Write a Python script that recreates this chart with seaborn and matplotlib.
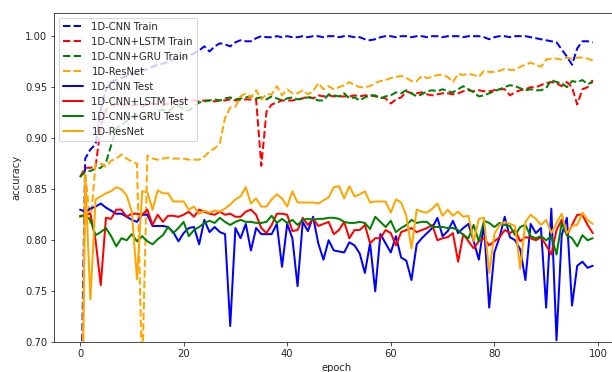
import matplotlib
matplotlib.use('Agg')
import matplotlib.pyplot as plt
import numpy as np
import seaborn as sns

sns.set_style('ticks')
plt.rcParams['font.family'] = ['DejaVu Sans']

epochs = np.arange(100)

# training accuracy (dashed)
cnn_train = [0.580, 0.880, 0.889, 0.894, 0.928, 0.948, 0.955, 0.957, 0.959, 0.961,
             0.962, 0.964, 0.966, 0.968, 0.970, 0.972, 0.973, 0.975, 0.977, 0.978,
             0.979, 0.981, 0.983, 0.986, 0.990, 0.985, 0.990, 0.993, 0.992, 0.990,
             0.994, 0.996, 0.995, 0.995, 0.998, 1.000, 0.999, 0.999, 1.000, 0.999,
             1.000, 0.999, 0.999, 1.000, 0.999, 1.000, 1.000, 0.999, 1.000, 1.000,
             0.999, 1.000, 1.000, 0.999, 0.999, 0.997, 0.996, 0.997, 0.999, 1.000,
             1.000, 0.999, 1.000, 1.000, 0.999, 1.000, 1.000, 0.999, 1.000, 1.000,
             0.999, 1.000, 1.000, 1.000, 0.999, 1.000, 1.000, 1.000, 0.999, 0.997,
             0.999, 1.000, 1.000, 0.999, 1.000, 1.000, 1.000, 0.999, 0.998, 0.997,
             0.996, 0.995, 0.994, 0.987, 0.980, 0.972, 0.988, 0.995, 0.995, 0.994]
lstm_train = [0.862, 0.871, 0.871, 0.872, 0.912, 0.928, 0.932, 0.933, 0.932, 0.933,
              0.932, 0.933, 0.931, 0.933, 0.934, 0.933, 0.932, 0.934, 0.935, 0.937,
              0.936, 0.938, 0.937, 0.936, 0.937, 0.937, 0.936, 0.937, 0.937, 0.938,
              0.937, 0.938, 0.938, 0.938, 0.938, 0.873, 0.926, 0.933, 0.935, 0.937,
              0.937, 0.937, 0.938, 0.939, 0.941, 0.939, 0.942, 0.941, 0.942, 0.941,
              0.941, 0.941, 0.941, 0.942, 0.941, 0.942, 0.942, 0.941, 0.940, 0.939,
              0.934, 0.938, 0.940, 0.946, 0.944, 0.944, 0.945, 0.943, 0.942, 0.943,
              0.944, 0.944, 0.943, 0.944, 0.946, 0.947, 0.946, 0.947, 0.946, 0.946,
              0.947, 0.948, 0.948, 0.942, 0.945, 0.947, 0.948, 0.950, 0.950, 0.952,
              0.954, 0.955, 0.954, 0.951, 0.955, 0.950, 0.933, 0.948, 0.950, 0.957]
gru_train = [0.862, 0.867, 0.868, 0.870, 0.871, 0.876, 0.893, 0.910, 0.913, 0.917,
             0.920, 0.922, 0.919, 0.924, 0.923, 0.927, 0.928, 0.926, 0.930, 0.932,
             0.928, 0.927, 0.931, 0.935, 0.936, 0.937, 0.938, 0.937, 0.939, 0.940,
             0.938, 0.939, 0.940, 0.941, 0.939, 0.940, 0.938, 0.941, 0.939, 0.937,
             0.939, 0.940, 0.938, 0.939, 0.940, 0.939, 0.937, 0.937, 0.943, 0.942,
             0.941, 0.944, 0.939, 0.940, 0.937, 0.940, 0.942, 0.942, 0.939, 0.941,
             0.942, 0.945, 0.944, 0.947, 0.944, 0.941, 0.943, 0.946, 0.947, 0.946,
             0.948, 0.946, 0.945, 0.948, 0.951, 0.948, 0.945, 0.941, 0.942, 0.944,
             0.946, 0.948, 0.950, 0.952, 0.951, 0.949, 0.947, 0.948, 0.947, 0.947,
             0.949, 0.957, 0.955, 0.954, 0.950, 0.956, 0.955, 0.957, 0.953, 0.955]
resnet_train = [0.500, 0.866, 0.815, 0.875, 0.875, 0.872, 0.878, 0.880, 0.884, 0.880,
                0.877, 0.875, 0.665, 0.883, 0.880, 0.879, 0.880, 0.881, 0.880, 0.880,
                0.880, 0.879, 0.879, 0.879, 0.882, 0.887, 0.890, 0.895, 0.920, 0.930,
                0.931, 0.941, 0.944, 0.940, 0.947, 0.938, 0.943, 0.943, 0.951, 0.942,
                0.948, 0.944, 0.944, 0.947, 0.943, 0.946, 0.954, 0.948, 0.951, 0.948,
                0.950, 0.952, 0.955, 0.952, 0.950, 0.950, 0.951, 0.954, 0.956, 0.957,
                0.959, 0.960, 0.961, 0.959, 0.956, 0.956, 0.961, 0.959, 0.960, 0.962,
                0.962, 0.960, 0.955, 0.963, 0.962, 0.963, 0.962, 0.960, 0.966, 0.965,
                0.965, 0.966, 0.968, 0.967, 0.967, 0.970, 0.972, 0.974, 0.972, 0.970,
                0.977, 0.978, 0.978, 0.977, 0.979, 0.978, 0.979, 0.979, 0.978, 0.976]

# test accuracy (solid)
cnn_test = [0.830, 0.828, 0.831, 0.833, 0.836, 0.832, 0.829, 0.826, 0.826, 0.823,
            0.820, 0.818, 0.825, 0.825, 0.814, 0.814, 0.814, 0.813, 0.808, 0.799,
            0.807, 0.812, 0.813, 0.796, 0.820, 0.808, 0.813, 0.808, 0.806, 0.716,
            0.812, 0.802, 0.816, 0.790, 0.812, 0.806, 0.806, 0.806, 0.816, 0.774,
            0.816, 0.802, 0.755, 0.818, 0.809, 0.823, 0.797, 0.781, 0.800, 0.790,
            0.789, 0.788, 0.798, 0.795, 0.787, 0.768, 0.797, 0.750, 0.806, 0.797,
            0.788, 0.804, 0.783, 0.780, 0.761, 0.796, 0.802, 0.807, 0.812, 0.822,
            0.804, 0.809, 0.819, 0.807, 0.812, 0.816, 0.799, 0.781, 0.816, 0.734,
            0.788, 0.803, 0.823, 0.803, 0.800, 0.791, 0.761, 0.816, 0.807, 0.812,
            0.734, 0.831, 0.702, 0.805, 0.822, 0.736, 0.775, 0.779, 0.773, 0.775]
lstm_test = [0.823, 0.825, 0.826, 0.800, 0.756, 0.822, 0.821, 0.830, 0.830, 0.823,
             0.826, 0.826, 0.825, 0.830, 0.815, 0.825, 0.818, 0.824, 0.824, 0.823,
             0.825, 0.828, 0.823, 0.830, 0.828, 0.826, 0.825, 0.828, 0.825, 0.826,
             0.823, 0.823, 0.828, 0.830, 0.825, 0.812, 0.807, 0.815, 0.826, 0.826,
             0.825, 0.809, 0.810, 0.822, 0.815, 0.821, 0.814, 0.816, 0.818, 0.806,
             0.810, 0.818, 0.802, 0.810, 0.810, 0.815, 0.797, 0.802, 0.802, 0.810,
             0.807, 0.795, 0.808, 0.810, 0.812, 0.808, 0.810, 0.812, 0.815, 0.800,
             0.802, 0.803, 0.807, 0.779, 0.806, 0.799, 0.792, 0.799, 0.802, 0.795,
             0.799, 0.803, 0.810, 0.807, 0.810, 0.799, 0.803, 0.802, 0.800, 0.803,
             0.795, 0.786, 0.810, 0.820, 0.805, 0.815, 0.825, 0.825, 0.815, 0.807]
gru_test = [0.824, 0.824, 0.820, 0.805, 0.808, 0.812, 0.804, 0.794, 0.802, 0.800,
            0.806, 0.799, 0.804, 0.799, 0.796, 0.801, 0.805, 0.813, 0.807, 0.812,
            0.818, 0.804, 0.810, 0.813, 0.817, 0.819, 0.817, 0.822, 0.818, 0.815,
            0.818, 0.820, 0.818, 0.818, 0.817, 0.817, 0.818, 0.824, 0.817, 0.821,
            0.817, 0.820, 0.815, 0.820, 0.821, 0.820, 0.821, 0.821, 0.822, 0.822,
            0.821, 0.818, 0.817, 0.817, 0.818, 0.817, 0.811, 0.823, 0.818, 0.813,
            0.819, 0.808, 0.812, 0.815, 0.820, 0.817, 0.818, 0.818, 0.813, 0.813,
            0.813, 0.812, 0.812, 0.810, 0.805, 0.802, 0.815, 0.799, 0.819, 0.817,
            0.813, 0.817, 0.815, 0.814, 0.805, 0.813, 0.815, 0.804, 0.802, 0.804,
            0.800, 0.804, 0.786, 0.817, 0.805, 0.802, 0.794, 0.805, 0.800, 0.802]
resnet_test = [0.420, 0.862, 0.742, 0.840, 0.843, 0.846, 0.848, 0.852, 0.850, 0.844,
               0.828, 0.762, 0.848, 0.847, 0.830, 0.849, 0.846, 0.846, 0.838, 0.838,
               0.838, 0.830, 0.833, 0.826, 0.829, 0.827, 0.829, 0.828, 0.831, 0.835,
               0.840, 0.843, 0.852, 0.836, 0.841, 0.833, 0.833, 0.840, 0.845, 0.841,
               0.833, 0.848, 0.837, 0.837, 0.837, 0.837, 0.836, 0.839, 0.842, 0.852,
               0.853, 0.841, 0.853, 0.843, 0.845, 0.848, 0.837, 0.838, 0.838, 0.838,
               0.827, 0.840, 0.837, 0.824, 0.792, 0.830, 0.828, 0.827, 0.831, 0.836,
               0.824, 0.830, 0.824, 0.828, 0.823, 0.824, 0.799, 0.821, 0.822, 0.768,
               0.806, 0.815, 0.818, 0.816, 0.814, 0.772, 0.818, 0.825, 0.821, 0.815,
               0.820, 0.807, 0.817, 0.826, 0.807, 0.814, 0.815, 0.827, 0.820, 0.816]

series = [
    (cnn_train, 'blue', '--', '1D-CNN Train'),
    (lstm_train, 'red', '--', '1D-CNN+LSTM Train'),
    (gru_train, 'green', '--', '1D-CNN+GRU Train'),
    (resnet_train, 'orange', '--', '1D-ResNet'),
    (cnn_test, 'blue', '-', '1D-CNN Test'),
    (lstm_test, 'red', '-', '1D-CNN+LSTM Test'),
    (gru_test, 'green', '-', '1D-CNN+GRU Test'),
    (resnet_test, 'orange', '-', '1D-ResNet'),
]

fig = plt.figure(figsize=(8.5, 372 / 72), dpi=72)
ax = fig.add_axes([54.4 / 612, 29.7 / 372, 564 / 612, 329.6 / 372])

for vals, color, ls, label in series:
    sns.lineplot(x=epochs, y=vals, color=color, linestyle=ls, linewidth=2,
                 label=label, ax=ax)

ax.set_xlim(-4.95, 103.95)
ax.set_ylim(0.70, 1.023)
ax.set_xlabel('epoch')
ax.set_ylabel('accuracy')
ax.legend(loc='upper left', fontsize=10)

fig.savefig('out.png', dpi=72)
